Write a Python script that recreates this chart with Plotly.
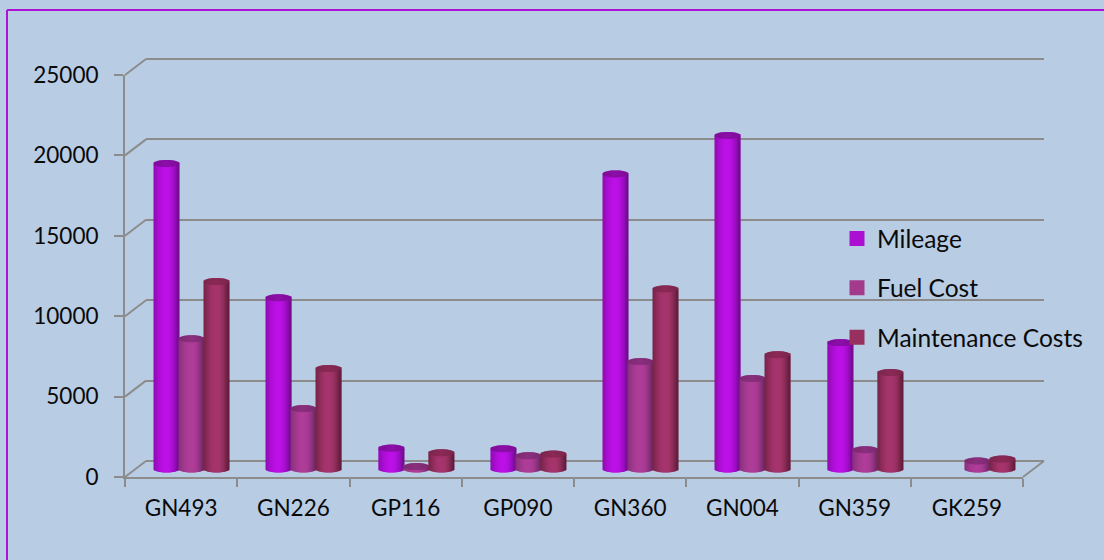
import math
import plotly.graph_objects as go

categories = ["GN493", "GN226", "GP116", "GP090", "GN360", "GN004", "GN359", "GK259"]
mileage = [19000, 10650, 1300, 1260, 18350, 20740, 7860, 0]
fuel_cost = [8100, 3760, 155, 830, 6680, 5630, 1200, 500]
maintenance_costs = [11660, 6250, 1010, 930, 11200, 7110, 6000, 620]
series_names = ["Mileage", "Fuel Cost", "Maintenance Costs"]

W, H = 1104, 560
BG = "#b8cce4"
GRID = "#8c8c8c"
FONT = "Lato"
TEXT = "#0a0a0a"

FX0, FX1, FY0, FY1 = 125, 1023, 477, 75      # front plane, px
BACK_DX, BACK_DY = 21, -16                   # back wall offset, px
MID_DX, MID_DY = 10.5, -8                    # plane the cylinders stand on
YMAX, YSTEP = 25000, 5000
BAR_PX, STRIP_PX, CAP_PX = 25, 1, 3.5
PAD_PX = 12                                  # spare room below/above hidden planes

cat_px = (FX1 - FX0) / len(categories)
unit_per_px = YMAX / (FY0 - FY1)


def xdom(dx):
    return [(FX0 + dx) / W, (FX1 + dx) / W]


def ydom(dy, pad=0):
    return [1 - (FY0 + dy + pad) / H, 1 - (FY1 + dy - pad) / H]


def padded_range(pad=0):
    return [-pad * unit_per_px, YMAX + pad * unit_per_px]


def hexmix(a, b, t):
    ca = [int(a[i:i + 2], 16) for i in (1, 3, 5)]
    cb = [int(b[i:i + 2], 16) for i in (1, 3, 5)]
    return "rgb(%d,%d,%d)" % tuple(round(p + (q - p) * t) for p, q in zip(ca, cb))


# edge (left), centre, edge (right), cap, flat swatch
styles = [
    ("#8d0bb0", "#bb10e6", "#6f0a8c", "#8c0ea8", "#ab10d2"),
    ("#84307a", "#ae3d98", "#6a2560", "#8a2f7e", "#a33a8c"),
    ("#742345", "#a5356c", "#5e1c38", "#8a2a55", "#98305f"),
]


def shade(style, s):
    left, mid, right = style[:3]
    if s < -0.1:
        return hexmix(mid, left, min(1, ((-s - 0.1) / 0.9) ** 1.6))
    return hexmix(mid, right, min(1, (max(s - 0.1, 0) / 0.9) ** 1.8))


fig = go.Figure()

# Front plane: axis lines, ticks and labels
fig.add_trace(go.Scatter(x=categories, y=[None] * len(categories), mode="lines",
                         showlegend=False, hoverinfo="skip", xaxis="x", yaxis="y"))
# Back wall: gridlines
fig.add_trace(go.Scatter(x=[None], y=[None], mode="lines", showlegend=False,
                         hoverinfo="skip", xaxis="x2", yaxis="y2"))

# Cylinders
for k, (name, vals) in enumerate(zip(series_names, [mileage, fuel_cost, maintenance_costs])):
    st = styles[k]
    left_px = -1.5 * BAR_PX + k * BAR_PX
    # flat bar carrying the true values and the legend swatch
    fig.add_trace(go.Bar(
        x=categories, y=[v if v > 0 else None for v in vals], name=name, legendgroup=name,
        xaxis="x3", yaxis="y3",
        width=(BAR_PX - 3) / cat_px, offset=(left_px + 1.5) / cat_px,
        marker=dict(color=st[4], line=dict(color=st[4], width=3)),
        hovertemplate=name + " %{x}: %{y}<extra></extra>",
    ))
    xs, bases, heights, colors, widths, offsets = [], [], [], [], [], []
    n = int(BAR_PX / STRIP_PX)
    for c, v in zip(categories, vals):
        if v <= 0:
            continue
        for i in range(n):
            s = (i + 0.5) / n * 2 - 1
            arc = CAP_PX * math.sqrt(1 - s * s) * unit_per_px
            off = (left_px + i * STRIP_PX) / cat_px
            # body
            xs.append(c); bases.append(-arc); heights.append(v); colors.append(shade(st, s))
            widths.append(STRIP_PX / cat_px); offsets.append(off)
            # cap
            xs.append(c); bases.append(v - arc); heights.append(2 * arc)
            colors.append(hexmix(st[3], "#000000", 0.10 * abs(s)))
            widths.append(STRIP_PX / cat_px); offsets.append(off)
    fig.add_trace(go.Bar(
        x=xs, y=heights, base=bases, width=widths, offset=offsets, legendgroup=name,
        showlegend=False, hoverinfo="skip", xaxis="x3", yaxis="y3",
        marker=dict(color=colors, line=dict(width=0)),
    ))

# Diagonal joins between front plane and back wall
shapes = []
ticks = list(range(0, YMAX + 1, YSTEP))
for t in ticks:
    py = FY0 - t / unit_per_px
    shapes.append(dict(type="line", xref="paper", yref="paper", layer="below",
                       x0=FX0 / W, x1=(FX0 + BACK_DX) / W,
                       y0=1 - py / H, y1=1 - (py + BACK_DY) / H,
                       line=dict(color=GRID, width=2)))
shapes.append(dict(type="line", xref="paper", yref="paper", layer="below",
                   x0=FX1 / W, x1=(FX1 + BACK_DX) / W,
                   y0=1 - FY0 / H, y1=1 - (FY0 + BACK_DY) / H,
                   line=dict(color=GRID, width=2)))
# Purple frame: top and left edges only
for x0, y0, x1, y1 in [(7, 10, W, 10), (7, 10, 7, H)]:
    shapes.append(dict(type="line", xref="paper", yref="paper", layer="above",
                       x0=x0 / W, x1=x1 / W, y0=1 - y0 / H, y1=1 - y1 / H,
                       line=dict(color="#ae12d6", width=2)))

hidden = dict(visible=False, fixedrange=True)
cat_range = [-0.5, len(categories) - 0.5]

fig.update_layout(
    width=W, height=H, autosize=False,
    margin=dict(l=0, r=0, t=0, b=0, autoexpand=False),
    paper_bgcolor=BG, plot_bgcolor="rgba(0,0,0,0)",
    barmode="overlay", shapes=shapes,
    font=dict(family=FONT, size=22, color=TEXT),
    xaxis=dict(domain=xdom(0), anchor="y", type="category", categoryorder="array",
               categoryarray=categories, range=cat_range, tickson="boundaries",
               ticks="outside", ticklen=8, tickwidth=2, tickcolor=GRID,
               showline=True, linecolor=GRID, linewidth=2, showgrid=False,
               zeroline=False, ticklabelstandoff=10, fixedrange=True,
               tickfont=dict(family=FONT, size=22.5, color=TEXT)),
    yaxis=dict(domain=ydom(0), anchor="x", range=[0, YMAX], tickmode="array",
               tickvals=ticks, ticktext=[str(t) for t in ticks],
               ticks="outside", ticklen=9, tickwidth=2, tickcolor=GRID,
               showline=True, linecolor=GRID, linewidth=2, showgrid=False,
               zeroline=False, ticklabelstandoff=11, fixedrange=True,
               tickfont=dict(family=FONT, size=22.5, color=TEXT)),
    xaxis2=dict(domain=xdom(BACK_DX), anchor="y2", range=[0, 1], **hidden),
    yaxis2=dict(domain=ydom(BACK_DY, 3), anchor="x2", range=padded_range(3), tickmode="array",
                tickvals=ticks, showticklabels=False, ticks="", showgrid=True,
                gridcolor=GRID, gridwidth=2, zeroline=False, showline=False,
                fixedrange=True),
    xaxis3=dict(domain=xdom(MID_DX), anchor="y3", type="category", categoryorder="array",
                categoryarray=categories, range=cat_range, **hidden),
    yaxis3=dict(domain=ydom(MID_DY, PAD_PX), anchor="x3", range=padded_range(PAD_PX), **hidden),
    legend=dict(x=837 / W, y=1 - 216 / H, xanchor="left", yanchor="top",
                bgcolor="rgba(0,0,0,0)", borderwidth=0, tracegroupgap=14.5,
                itemsizing="trace", itemclick=False, itemdoubleclick=False,
                font=dict(family=FONT, size=24.5, color=TEXT)),
    showlegend=True,
)

fig.write_html("out.html", config={"displayModeBar": False},
               post_script="document.body.style.margin='0';document.body.style.overflow='hidden';")
